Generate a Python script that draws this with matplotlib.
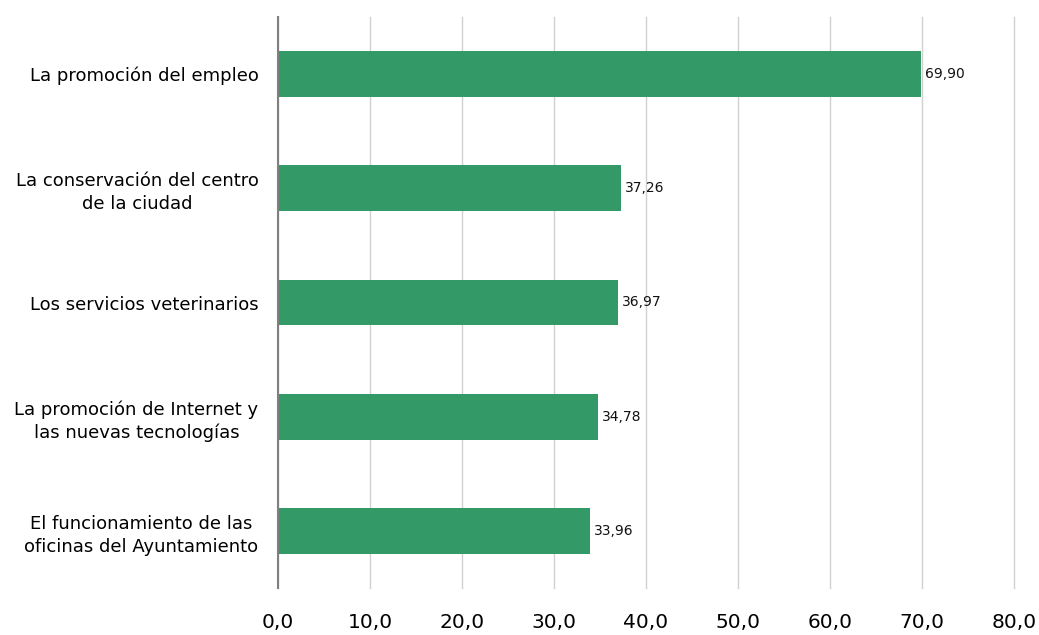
import matplotlib
matplotlib.use("Agg")
import matplotlib.pyplot as plt

categories = [
    "La promoción del empleo",
    "La conservación del centro\nde la ciudad",
    "Los servicios veterinarios",
    "La promoción de Internet y\nlas nuevas tecnologías",
    "El funcionamiento de las\noficinas del Ayuntamiento",
]
values = [69.90, 37.26, 36.97, 34.78, 33.96]
x_ticks = [0, 10, 20, 30, 40, 50, 60, 70, 80]

bar_color = "#339966"

fig = plt.figure(figsize=(10.39, 6.35), dpi=100)
ax = fig.add_axes([278 / 1039, 1 - 588 / 635, 736 / 1039, 571 / 635])

pos = list(range(len(categories)))
ax.barh(pos, values, height=0.4, color=bar_color, zorder=3)
ax.set_ylim(len(categories) - 0.5, -0.5)
ax.set_xlim(0, 80)

# value labels next to bars
for p, v in zip(pos, values):
    ax.text(v + 0.4, p, f"{v:.2f}".replace(".", ","), va="center", ha="left",
            fontsize=10, color="#111111")

ax.set_yticks(pos)
ax.set_yticklabels(categories, fontsize=13, linespacing=1.35,
                   multialignment="center")
ax.set_xticks(x_ticks)
ax.set_xticklabels([f"{t:.1f}".replace(".", ",") for t in x_ticks], fontsize=14.5)
ax.tick_params(axis="both", length=0)
ax.tick_params(axis="x", pad=18)
ax.tick_params(axis="y", pad=14)

ax.grid(axis="x", color="#d0d0d0", linewidth=1, zorder=0)
for gl in ax.get_xgridlines():
    gl.set_clip_on(False)
for s in ["top", "right", "bottom"]:
    ax.spines[s].set_visible(False)
ax.spines["left"].set_color("#808080")
ax.spines["left"].set_linewidth(1.5)
ax.spines["left"].set_zorder(4)

fig.savefig("out.png", dpi=100)
